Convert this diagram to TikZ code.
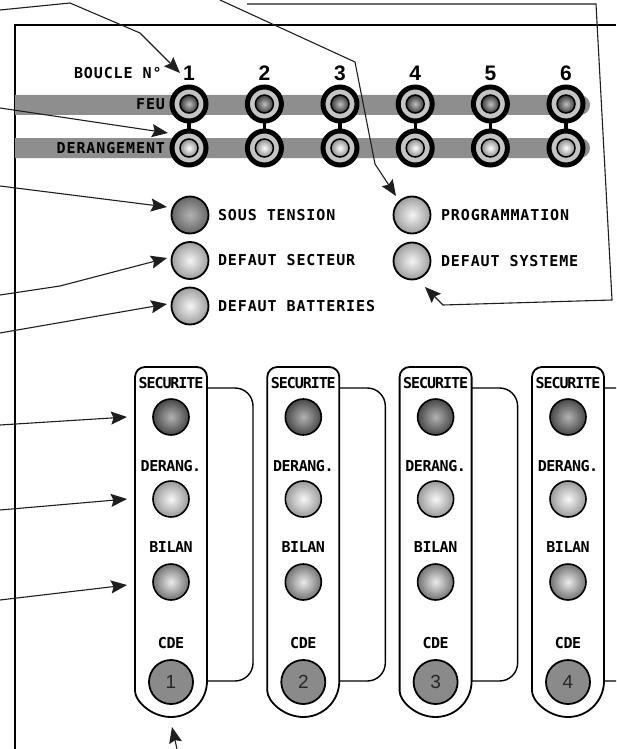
\documentclass[tikz,border=0pt]{standalone}
\usepackage{fontspec}
\usetikzlibrary{arrows.meta}
\newfontfamily\lblfont{DejaVu Sans Mono}[LetterSpace=6]
\newfontfamily\capfont{DejaVu Sans Mono}[LetterSpace=-3]
\newfontfamily\secfont{DejaVu Sans Mono}[LetterSpace=-7]
\newfontfamily\numfont{Liberation Sans}
\definecolor{bandgray}{HTML}{8E8E8E}
\definecolor{ringgray}{HTML}{C4C4C4}
\definecolor{btngray}{HTML}{8A8A8A}
\definecolor{calloutgray}{HTML}{1E1E1E}
\begin{document}
\begin{tikzpicture}[x=1pt,y=-1pt,
  every node/.style={inner sep=0pt,outer sep=0pt},
  frameline/.style={line width=1.3pt,black},
  callout/.style={line width=1.1pt,calloutgray},
  arr/.style={callout,-{Stealth[length=16pt,width=13pt,inset=2.5pt]}},
  lbl/.style={font={\lblfont\bfseries\fontsize{15}{17}\selectfont}},
  caplbl/.style={font={\capfont\bfseries\fontsize{15}{17}\selectfont}},
  seclbl/.style={font={\secfont\bfseries\fontsize{15}{17}\selectfont}},
  numlbl/.style={font={\numfont\bfseries\fontsize{21}{24}\selectfont}},
  ring/.style={circle,draw=black,line width=5pt,fill=ringgray,minimum size=34pt},
  ringbar/.style={line width=3.3pt,black},
  feuled/.style={circle,draw=black,line width=1.5pt,minimum size=18pt,inner color=black!25,outer color=black!78},
  derled/.style={circle,draw=black,line width=1.5pt,minimum size=18pt,inner color=white,outer color=black!45},
  sled/.style={circle,draw=black,line width=1.8pt,minimum size=37pt},
  darkled/.style={sled,inner color=black!30,outer color=black!60},
  lightled/.style={sled,inner color=black!4,outer color=black!38},
  capled/.style={circle,draw=black,line width=1.6pt,minimum size=36pt},
  secled/.style={capled,inner color=black!30,outer color=black!72},
  dgled/.style={capled,inner color=black!3,outer color=black!40},
  biled/.style={capled,inner color=black!8,outer color=black!55},
  btn/.style={circle,draw=black,line width=1.8pt,fill=btngray,minimum size=44pt,
    font={\numfont\fontsize{19}{22}\selectfont},text=black!85},
  capsule/.style={draw=black,line width=1.8pt,fill=white},
  bracket/.style={draw=black,line width=1.4pt}
]
\useasboundingbox (0,0) rectangle (616,749);
\clip (0,0) rectangle (616,749);
\fill[white] (0,0) rectangle (616,749);

% frame
\draw[frameline] (15,749) -- (15,25) -- (616,25);

% bands
\fill[bandgray] (15,95) -- (580,95) arc[start angle=-90,end angle=90,radius=10] -- (15,115) -- cycle;
\fill[bandgray] (15,138) -- (580,138) arc[start angle=-90,end angle=90,radius=10] -- (15,158) -- cycle;

% labels of the loop rows
\node[lbl,anchor=west] (boucle) at (74,73) {BOUCLE N°};
\node[lbl,anchor=east] (feu) at (165,104) {FEU};
\node[lbl,anchor=east] (der) at (165,148) {DERANGEMENT};

% loop LEDs
\foreach \i/\x in {1/189,2/264.4,3/340,4/415.2,5/490.4,6/566}{
  \node[numlbl] (n\i) at (\x,73) {\i};
  \node[ring] (f\i) at (\x,104) {};
  \node[ring] (d\i) at (\x,148) {};
  \draw[ringbar] (f\i.south) -- (d\i.north);
  \node[feuled] (fl\i) at (\x,104) {};
  \node[derled] (dl\i) at (\x,148) {};
}

% status LEDs
\node[darkled] (st) at (190,215) {};
\node[lightled] (ds) at (190,260.5) {};
\node[lightled] (db) at (190,306) {};
\node[lightled] (pg) at (412,215) {};
\node[lightled] (dy) at (412,261) {};
\node[lbl,anchor=west] (tst) at (218,215) {SOUS TENSION};
\node[lbl,anchor=west] (tds) at (218,260.5) {DEFAUT SECTEUR};
\node[lbl,anchor=west] (tdb) at (218,306) {DEFAUT BATTERIES};
\node[lbl,anchor=west] (tpg) at (441,215) {PROGRAMMATION};
\node[lbl,anchor=west] (tdy) at (441,261) {DEFAUT SYSTEME};

% modules
\foreach \i/\c in {1/171,2/303.3,3/435.6,4/568}{
  \draw[bracket] (\c+36,388) [rounded corners=18] -- (\c+82,388) -- (\c+82,681) -- (\c+36,681);
  \draw[capsule] (\c+36,681) [rounded corners=10] -- (\c+36,367) -- (\c-36,367) -- (\c-36,681)
     [sharp corners] arc[start angle=180,end angle=0,radius=36] -- cycle;
  \node[seclbl] (sl\i) at (\c,383) {SECURITE};
  \node[secled] (ls\i) at (\c,417) {};
  \node[caplbl] (dgl\i) at (\c,466) {DERANG.};
  \node[dgled] (lg\i) at (\c,499) {};
  \node[caplbl] (bl\i) at (\c,547) {BILAN};
  \node[biled] (lb\i) at (\c,582) {};
  \node[caplbl] (cl\i) at (\c,643) {CDE};
  \node[btn] (b\i) at (\c,682) {\i};
}

% callout points
\coordinate (a1) at (0,10);   \coordinate (a2) at (70,3);   \coordinate (a3) at (140,33);  \coordinate (a4) at (180,73);
\coordinate (b1) at (0,108);  \coordinate (b2) at (168,133);
\coordinate (c1) at (220,0);  \coordinate (c2) at (355,62);  \coordinate (c3) at (375,164); \coordinate (c4) at (396,196);
\coordinate (e1) at (0,186);  \coordinate (e2) at (167,207);
\coordinate (g1) at (0,295);  \coordinate (g2) at (60,286);  \coordinate (g3) at (167,258);
\coordinate (h1) at (0,333);  \coordinate (h2) at (167,304);
\coordinate (k1) at (247,4);  \coordinate (k2) at (596,4);   \coordinate (k3) at (612,300); \coordinate (k4) at (443,305); \coordinate (k5) at (425,287);
\coordinate (m1) at (0,425);  \coordinate (m2) at (127,417);
\coordinate (p1) at (0,510);  \coordinate (p2) at (127,499);
\coordinate (q1) at (0,600);  \coordinate (q2) at (127,585);
\coordinate (r1) at (177,749); \coordinate (r2) at (172,727);

\draw[arr] (a1) -- (a2) -- (a3) -- (a4);
\draw[arr] (b1) -- (b2);
\draw[arr] (c1) -- (c2) -- (c3) -- (c4);
\draw[arr] (e1) -- (e2);
\draw[arr] (g1) -- (g2) -- (g3);
\draw[arr] (h1) -- (h2);
\draw[arr] (k1) -- (k2) -- (k3) -- (k4) -- (k5);
\draw[arr] (m1) -- (m2);
\draw[arr] (p1) -- (p2);
\draw[arr] (q1) -- (q2);
\draw[arr] (r1) -- (r2);
\end{tikzpicture}
\end{document}
